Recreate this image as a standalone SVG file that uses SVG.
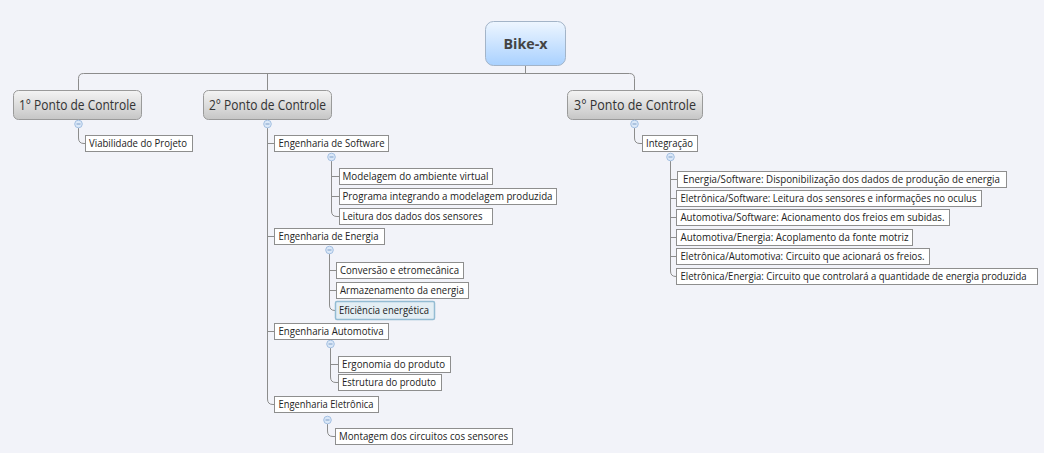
<svg xmlns="http://www.w3.org/2000/svg" width="1044" height="453" viewBox="0 0 1044 453">
<defs>
<linearGradient id="gRoot" x1="0" y1="0" x2="0" y2="1"><stop offset="0" stop-color="#eef6ff"/><stop offset="1" stop-color="#a9d1ff"/></linearGradient>
<linearGradient id="gL1" x1="0" y1="0" x2="0" y2="1"><stop offset="0" stop-color="#f4f4f4"/><stop offset="1" stop-color="#c6c6c6"/></linearGradient>
<style>
.bg{fill:#f2f3f9}
.c{fill:none;stroke:#8c8c8c;stroke-width:1}
.root{fill:url(#gRoot);stroke:#a3b4c8;stroke-width:1}
.l1{fill:url(#gL1);stroke:#9a9a9a;stroke-width:1}
.leaf{fill:#ffffff;stroke:#8e8e8e;stroke-width:1}
.sel{fill:#e3eef4;stroke:#93bcd3;stroke-width:1.5}
.t{font-family:"Open Sans","Noto Sans",sans-serif;font-size:10.5px;fill:#222}
.t1{font-family:"Open Sans","Noto Sans",sans-serif;font-size:14px;fill:#333;text-anchor:middle}
.tr{font-family:"Open Sans","Noto Sans",sans-serif;font-size:15px;font-weight:bold;fill:#444;text-anchor:middle}
.col{fill:#dbe8f8;stroke:#a4c0e2;stroke-width:1}
.cm{stroke:#7f9fc8;stroke-width:1}
</style>
</defs>
<rect class="bg" x="0" y="0" width="1044" height="453"/>
<g id="connectors">
<path class="c" d="M525.5,66 V73.5"/>
<path class="c" d="M78.5,90 V78.5 Q78.5,73.5 83.5,73.5 H629.5 Q634.5,73.5 634.5,78.5 V90"/>
<path class="c" d="M267.5,73.5 V90"/>
<path class="c" d="M78.5,128 V138 Q78.5,143.5 84,143.5 H85"/>
<path class="c" d="M634.5,128 V138 Q634.5,143.5 640,143.5 H642"/>
<path class="c" d="M267.5,128 V399 Q267.5,404.5 273,404.5 H274"/>
<path class="c" d="M267.5,143.5 H274 M267.5,236.5 H274 M267.5,331.5 H274"/>
<path class="c" d="M331.5,161 V211 Q331.5,216.5 337,216.5 H339 M331.5,176.5 H339 M331.5,196.5 H339"/>
<path class="c" d="M329.5,254 V305 Q329.5,310.5 335,310.5 H336 M329.5,270.5 H336 M329.5,290.5 H336"/>
<path class="c" d="M330.5,348 V377 Q330.5,382.5 336,382.5 H338 M330.5,364.5 H338"/>
<path class="c" d="M327.5,424 V431 Q327.5,436.5 333,436.5 H335"/>
<path class="c" d="M670.5,161 V271 Q670.5,276.5 676,276.5 H676 M670.5,179.5 H677 M670.5,198.5 H676 M670.5,217.5 H676 M670.5,237.5 H676 M670.5,256.5 H676"/>
</g>
<g id="root">
<rect class="root" x="485.5" y="21.5" width="80" height="44" rx="8"/>
<text class="tr" x="525.5" y="48.5" textLength="44" lengthAdjust="spacingAndGlyphs">Bike-x</text>
</g>
<g id="p1">
<rect class="l1" x="13.5" y="90.5" width="128" height="29" rx="5"/>
<text class="t1" x="77.5" y="109.5" textLength="117" lengthAdjust="spacingAndGlyphs">1° Ponto de Controle</text>
</g>
<g id="p2">
<rect class="l1" x="203.5" y="90.5" width="128" height="29" rx="5"/>
<text class="t1" x="267.5" y="109.5" textLength="117" lengthAdjust="spacingAndGlyphs">2° Ponto de Controle</text>
</g>
<g id="p3">
<rect class="l1" x="567.5" y="90.5" width="135" height="29" rx="5"/>
<text class="t1" x="635" y="109.5" textLength="122" lengthAdjust="spacingAndGlyphs">3° Ponto de Controle</text>
</g>
<g id="collapse">
<circle class="col" cx="78.5" cy="124" r="3.8"/><path class="cm" d="M76.5,124 H80.5"/>
<circle class="col" cx="267.5" cy="124" r="3.8"/><path class="cm" d="M265.5,124 H269.5"/>
<circle class="col" cx="634.5" cy="124" r="3.8"/><path class="cm" d="M632.5,124 H636.5"/>
<circle class="col" cx="331.5" cy="157" r="3.8"/><path class="cm" d="M329.5,157 H333.5"/>
<circle class="col" cx="329.5" cy="250" r="3.8"/><path class="cm" d="M327.5,250 H331.5"/>
<circle class="col" cx="330.5" cy="344" r="3.8"/><path class="cm" d="M328.5,344 H332.5"/>
<circle class="col" cx="327.5" cy="420" r="3.8"/><path class="cm" d="M325.5,420 H329.5"/>
<circle class="col" cx="670.5" cy="157" r="3.8"/><path class="cm" d="M668.5,157 H672.5"/>
</g>
<g id="n-viabilidade"><rect class="leaf" x="85.5" y="135.5" width="107" height="16"/><text class="t" x="89" y="147" textLength="98" lengthAdjust="spacingAndGlyphs">Viabilidade do Projeto</text></g>
<g id="n-integracao"><rect class="leaf" x="642.5" y="135.5" width="55" height="16"/><text class="t" x="646" y="147" textLength="47" lengthAdjust="spacingAndGlyphs">Integração</text></g>
<g id="n-engsw"><rect class="leaf" x="274.5" y="135.5" width="114" height="16"/><text class="t" x="278.5" y="147" textLength="106" lengthAdjust="spacingAndGlyphs">Engenharia de Software</text></g>
<g id="n-modelagem"><rect class="leaf" x="339.5" y="168.5" width="153" height="16"/><text class="t" x="342.5" y="180" textLength="146" lengthAdjust="spacingAndGlyphs">Modelagem do ambiente virtual</text></g>
<g id="n-programa"><rect class="leaf" x="339.5" y="188.5" width="217" height="16"/><text class="t" x="342.5" y="200" textLength="210" lengthAdjust="spacingAndGlyphs">Programa integrando a modelagem produzida</text></g>
<g id="n-leitura"><rect class="leaf" x="339.5" y="208.5" width="153" height="16"/><text class="t" x="342.5" y="220" textLength="140" lengthAdjust="spacingAndGlyphs">Leitura dos dados dos sensores</text></g>
<g id="n-engen"><rect class="leaf" x="274.5" y="228.5" width="110" height="16"/><text class="t" x="278.5" y="240" textLength="100" lengthAdjust="spacingAndGlyphs">Engenharia de Energia</text></g>
<g id="n-conversao"><rect class="leaf" x="336.5" y="262.5" width="127" height="16"/><text class="t" x="340" y="274" textLength="119" lengthAdjust="spacingAndGlyphs">Conversão e etromecânica</text></g>
<g id="n-armazenamento"><rect class="leaf" x="336.5" y="282.5" width="132" height="16"/><text class="t" x="340" y="294" textLength="124" lengthAdjust="spacingAndGlyphs">Armazenamento da energia</text></g>
<g id="n-eficiencia"><rect class="sel" x="335.5" y="301.5" width="99" height="18" rx="1.5"/><text class="t" x="339" y="314" textLength="90" lengthAdjust="spacingAndGlyphs">Eficiência energética</text></g>
<g id="n-engauto"><rect class="leaf" x="274.5" y="323.5" width="114" height="16"/><text class="t" x="278.5" y="335" textLength="105" lengthAdjust="spacingAndGlyphs">Engenharia Automotiva</text></g>
<g id="n-ergonomia"><rect class="leaf" x="338.5" y="356.5" width="112" height="16"/><text class="t" x="342" y="368" textLength="103" lengthAdjust="spacingAndGlyphs">Ergonomia do produto</text></g>
<g id="n-estrutura"><rect class="leaf" x="338.5" y="374.5" width="103" height="16"/><text class="t" x="342" y="386" textLength="94" lengthAdjust="spacingAndGlyphs">Estrutura do produto</text></g>
<g id="n-engele"><rect class="leaf" x="274.5" y="396.5" width="104" height="16"/><text class="t" x="278.5" y="408" textLength="95" lengthAdjust="spacingAndGlyphs">Engenharia Eletrônica</text></g>
<g id="n-montagem"><rect class="leaf" x="335.5" y="428.5" width="177" height="16"/><text class="t" x="339" y="440" textLength="169" lengthAdjust="spacingAndGlyphs">Montagem dos circuitos cos sensores</text></g>
<g id="n-es"><rect class="leaf" x="677.5" y="171.5" width="329" height="16"/><text class="t" x="683" y="183" textLength="317" lengthAdjust="spacingAndGlyphs">Energia/Software: Disponibilização dos dados de produção de energia</text></g>
<g id="n-els"><rect class="leaf" x="676.5" y="190.5" width="305" height="16"/><text class="t" x="680.5" y="202" textLength="296" lengthAdjust="spacingAndGlyphs">Eletrônica/Software: Leitura dos sensores e informações no oculus</text></g>
<g id="n-as"><rect class="leaf" x="676.5" y="209.5" width="273" height="16"/><text class="t" x="680.5" y="221" textLength="264" lengthAdjust="spacingAndGlyphs">Automotiva/Software: Acionamento dos freios em subidas.</text></g>
<g id="n-ae"><rect class="leaf" x="676.5" y="229.5" width="236" height="16"/><text class="t" x="680.5" y="241" textLength="228" lengthAdjust="spacingAndGlyphs">Automotiva/Energia: Acoplamento da fonte motriz</text></g>
<g id="n-ela"><rect class="leaf" x="676.5" y="248.5" width="253" height="16"/><text class="t" x="680.5" y="260" textLength="244" lengthAdjust="spacingAndGlyphs">Eletrônica/Automotiva: Circuito que acionará os freios.</text></g>
<g id="n-ele"><rect class="leaf" x="676.5" y="268.5" width="361" height="16"/><text class="t" x="680.5" y="280" textLength="346" lengthAdjust="spacingAndGlyphs">Eletrônica/Energia: Circuito que controlará a quantidade de energia produzida</text></g>
</svg>
